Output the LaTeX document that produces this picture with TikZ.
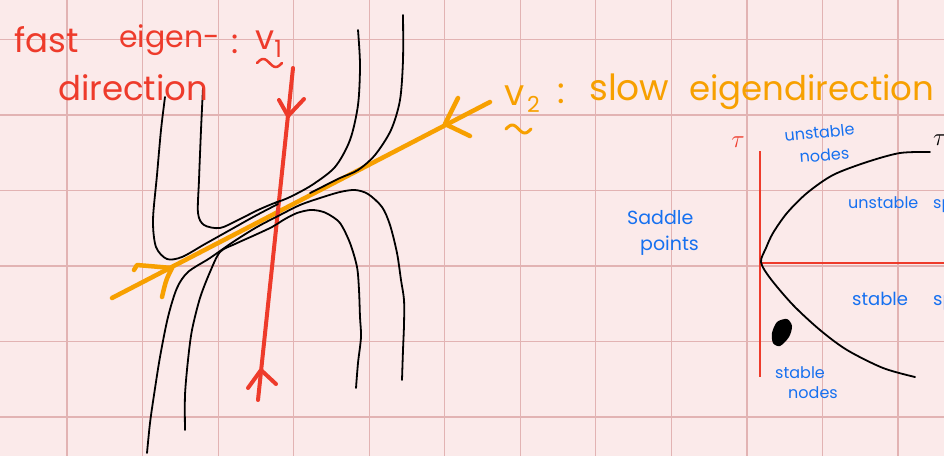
\documentclass[tikz,border=0pt]{standalone}
\usepackage{fontspec}
\setmainfont{Poppins}
\definecolor{bg}{HTML}{FBEAEA}
\definecolor{gridc}{HTML}{E2B3B3}
\definecolor{redink}{HTML}{EE3B2B}
\definecolor{orangeink}{HTML}{F7A000}
\definecolor{blueink}{HTML}{1670F0}
\begin{document}
\begin{tikzpicture}[x=1pt,y=-1pt,
  gridline/.style={draw=gridc,line width=1.2pt},
  traj/.style={draw=black,line width=1.8pt,line cap=round,line join=round},
  fastline/.style={draw=redink,line width=4pt,line cap=round,line join=round},
  slowline/.style={draw=orangeink,line width=4.5pt,line cap=round,line join=round},
  axisline/.style={draw=redink,line width=2.6pt},
  redtxt/.style={text=redink,inner sep=0pt,anchor=base west,font=\fontsize{34}{34}\selectfont},
  orangetxt/.style={text=orangeink,inner sep=0pt,anchor=base west,font=\fontsize{36}{36}\selectfont},
  bluetxt/.style={text=blueink,inner sep=0pt,anchor=base west,font=\fontsize{16}{16}\selectfont},
]
\fill[bg] (0,0) rectangle (944,456);
\useasboundingbox (0,0) rectangle (944,456);
\clip (0,0) rectangle (944,456);
% grid
\foreach \i in {0,...,11} \draw[gridline] ({67+75.55*\i},0) -- ({67+75.55*\i},456);
\foreach \j in {0,...,5} \draw[gridline] (0,{39.5+75.5*\j}) -- (944,{39.5+75.5*\j});

% slow eigendirection
\draw[slowline] (112,298) -- (490,102);
\draw[slowline] (134,270) -- (137,265) -- (172,268) .. controls (166,280) .. (162,297);
\draw[slowline] (458,98) -- (445,124) -- (470,136);

% fast eigendirection
\draw[fastline] (293,68) -- (258,400);
\draw[fastline] (279,100) -- (288,116) -- (304,99);
\draw[fastline] (248,388) -- (261,370) -- (276,384);

% trajectories
\draw[traj] plot[smooth] coordinates {(165,97) (161,130) (157,175) (153,220) (156,247) (167,259) (182,257) (205,244) (230,230) (255,216) (278,204)};
\draw[traj] plot[smooth] coordinates {(203,88) (201,130) (199,180) (198,213) (204,225) (220,228) (238,220) (258,210) (272,204) (280,201)};
\draw[traj] plot[smooth] coordinates {(358,30) (360,65) (358,105) (350,140) (335,167) (312,185) (290,197) (275,203)};
\draw[traj] plot[smooth] coordinates {(403,15) (403,60) (400,100) (391,130) (375,155) (358,170) (340,178) (322,187) (310,193)};
\draw[traj] plot[smooth] coordinates {(147,453) (150,423) (154,395) (160,357) (168,317) (177,288) (188,272) (210,258) (233,242) (257,227) (280,215) (300,205) (320,198) (340,192) (355,190) (368,194) (382,207) (390,225) (397,253) (401,280) (404,300) (404,325) (403,350) (402,380)};
\draw[traj] plot[smooth] coordinates {(185,430) (185,395) (188,360) (192,330) (200,298) (210,272) (220,252) (235,244) (255,235) (272,227) (285,219) (297,213) (310,210) (320,211) (328,214) (340,223) (350,243) (357,267) (359,290) (360,317) (361,337) (358,363) (356,388)};

% labels left
\node[redtxt] (fastw) at (14,52) {fast};
\node[redtxt,font=\fontsize{30}{30}\selectfont] (eigenw) at (119,47) {eigen-};
\node[redtxt] (dirw) at (58,100) {direction};
\node[redtxt] (colonr) at (231,53) {:};
\node[redtxt] (vone) at (255,49) {v\textsubscript{1}};
\draw[redink,line width=2.5pt,line cap=round] plot[domain=0:1,samples=20] ({257+25*\x},{63-4*sin(360*\x)});

\node[orangetxt] (vtwo) at (504,105) {v};
\node[orangetxt,font=\fontsize{22}{22}\selectfont] (vtwosub) at (527,112) {2};
\draw[orangeink,line width=3pt,line cap=round] plot[domain=0:1,samples=20] ({506+25*\x},{129-4*sin(360*\x)});
\node[orangetxt] (colono) at (557,103) {:};
\node[orangetxt] (sloww) at (589,100) {slow};
\node[orangetxt,font=\fontsize{34}{34}\selectfont] (eigdir) at (689,100) {eigendirection};

% trace-determinant sketch
\draw[axisline] (760,151) -- (760,377);
\draw[axisline] (761,263) -- (944,263);
\draw[traj] plot[smooth] coordinates {(930,152) (900,153) (867,162) (833,175) (807,193) (787,213) (773,233) (766,248) (761,262) (770,278) (793,305) (820,330) (847,350) (883,368) (915,377)};
\fill[black] plot[smooth cycle] coordinates {(787,319) (792,326) (789,337) (780,346) (773,343) (772,333) (777,322)};
\node[text=redink,inner sep=0pt,font=\fontsize{30}{30}\selectfont] (taur) at (738,142) {$\tau$};
\node[text=black,inner sep=0pt,anchor=west,font=\fontsize{26}{26}\selectfont] (taub) at (933,140) {$\tau$};

\node[bluetxt,rotate=6] (unst1) at (785,142) {unstable};
\node[bluetxt,rotate=5] (nodes1) at (800,163) {nodes};
\node[bluetxt,font=\fontsize{19}{19}\selectfont] (sad) at (627,224) {Saddle};
\node[bluetxt,font=\fontsize{19}{19}\selectfont] (pts) at (640,250) {points};
\node[bluetxt] (unst2) at (848,208) {unstable};
\node[bluetxt] (spir1) at (933,208) {spirals};
\node[bluetxt,font=\fontsize{18}{18}\selectfont] (stab2) at (852,305) {stable};
\node[bluetxt,font=\fontsize{18}{18}\selectfont] (spir2) at (933,305) {spirals};
\node[bluetxt] (stab3) at (775,378) {stable};
\node[bluetxt] (nodes3) at (788,398) {nodes};
\end{tikzpicture}
\end{document}
